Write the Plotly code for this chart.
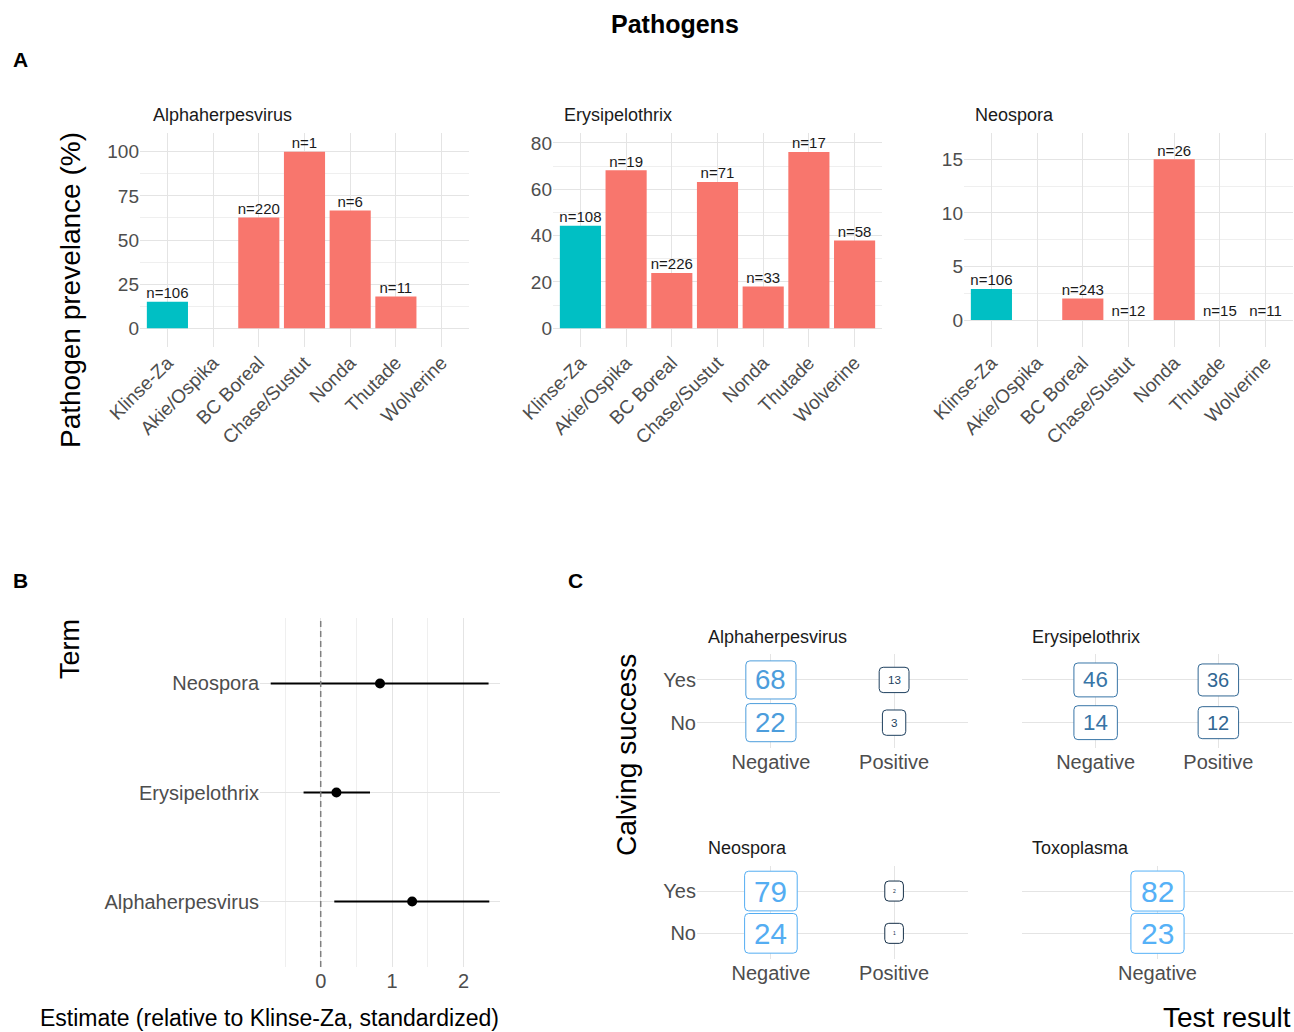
import math
import plotly.graph_objects as go

W, H = 1294, 1032

# ---- Panel A: prevalence by herd ----
regions = ["Klinse-Za", "Akie/Ospika", "BC Boreal", "Chase/Sustut", "Nonda", "Thutade", "Wolverine"]
REFERENCE = "Klinse-Za"

alpha_prev = [15.0, None, 62.7, 100.0, 66.7, 18.0, None]
alpha_n = [106, None, 220, 1, 6, 11, None]

erysip_prev = [44.2, 68.2, 23.9, 63.1, 18.0, 76.1, 37.9]
erysip_n = [108, 19, 226, 71, 33, 17, 58]

neo_prev = [2.9, None, 2.0, 0.0, 15.0, 0.0, 0.0]
neo_n = [106, None, 243, 12, 26, 15, 11]

# ---- Panel B: model estimates ----
terms = ["Alphaherpesvirus", "Erysipelothrix", "Neospora"]
estimate = [1.28, 0.22, 0.83]
conf_low = [0.19, -0.24, -0.70]
conf_high = [2.36, 0.69, 2.35]

# ---- Panel C: calving success by test result ----
calving = ["No", "Yes"]
results = ["Negative", "Positive"]
alpha_counts = {"Negative": [22, 68], "Positive": [3, 13]}
erysip_counts = {"Negative": [14, 46], "Positive": [12, 36]}
neo_counts = {"Negative": [24, 79], "Positive": [1, 2]}
toxo_counts = {"Negative": [23, 82]}

FONT = "Liberation Sans, Arial, sans-serif"
TICK = "#4d4d4d"
GRID = "#e4e4e4"
MINOR = "#efefef"
TEAL = "#00BFC4"
SALMON = "#F8766D"
LOW = (0x13, 0x2B, 0x43)
HIGH = (0x56, 0xB1, 0xF7)


def dom_x(a, b):
    return [a / W, b / W]


def dom_y(top, bottom):
    return [1 - bottom / H, 1 - top / H]


def ann(text, x, y, size, color="#000000", xanchor="center", yanchor="middle", angle=0, bold=False):
    t = f"<b>{text}</b>" if bold else text
    return dict(text=t, x=x / W, y=1 - y / H, xref="paper", yref="paper",
                xanchor=xanchor, yanchor=yanchor, showarrow=False, textangle=angle,
                font=dict(size=size, family=FONT, color=color))


def tickfont(size):
    return dict(size=size, family=FONT, color=TICK)


fig = go.Figure()
layout = {}
annotations = []
shapes = []

# ---------------- Panel A ----------------
a_panels = [
    ("Alphaherpesvirus", alpha_prev, alpha_n, (140, 469), [-10.6, 110.6], 25, 151),
    ("Erysipelothrix", erysip_prev, erysip_n, (553, 882), [-8.1, 84.3], 20, 562),
    ("Neospora", neo_prev, neo_n, (964, 1293), [-2.52, 17.46], 5, 973),
]
for i, (name, prev, ns, (x0, x1), yr, dt, title_x) in enumerate(a_panels, start=1):
    sfx = "" if i == 1 else str(i)
    xa, ya = f"x{sfx}", f"y{sfx}"
    colors = [TEAL if r == REFERENCE else SALMON for r in regions]
    fig.add_trace(go.Bar(x=regions, y=prev, width=0.9, marker=dict(color=colors, line=dict(width=0)),
                         xaxis=xa, yaxis=ya, showlegend=False, hoverinfo="skip"))
    fig.add_trace(go.Scatter(x=regions, y=prev,
                             text=[f"n={n}" if n is not None else "" for n in ns],
                             mode="text", textposition="top center",
                             textfont=dict(size=15, family=FONT, color="#1a1a1a"),
                             xaxis=xa, yaxis=ya, showlegend=False, hoverinfo="skip"))
    layout[f"xaxis{sfx}"] = dict(domain=dom_x(x0, x1), anchor=ya, type="category",
                                 categoryorder="array", categoryarray=regions, range=[-0.6, 6.6],
                                 tickangle=-45, showgrid=True, gridcolor=GRID, gridwidth=1,
                                 zeroline=False, showline=False, ticks="", automargin=False,
                                 tickfont=tickfont(19))
    layout[f"yaxis{sfx}"] = dict(domain=dom_y(133, 347), anchor=xa, range=yr, tick0=0, dtick=dt,
                                 showgrid=True, gridcolor=GRID, gridwidth=1, zeroline=False,
                                 showline=False, ticks="", automargin=False,
                                 minor=dict(tick0=0, dtick=dt / 2, showgrid=True, gridcolor=MINOR, gridwidth=1),
                                 tickfont=tickfont(19))
    annotations.append(ann(name, title_x, 115, 18, color="#1a1a1a", xanchor="left"))

# ---------------- Panel B ----------------
fig.add_trace(go.Scatter(
    x=estimate, y=terms, mode="markers",
    marker=dict(size=10, color="black"),
    error_x=dict(type="data", symmetric=False,
                 array=[h - e for h, e in zip(conf_high, estimate)],
                 arrayminus=[e - l for e, l in zip(estimate, conf_low)],
                 width=0, thickness=2, color="black"),
    xaxis="x4", yaxis="y4", showlegend=False, hoverinfo="skip"))
layout["xaxis4"] = dict(domain=dom_x(260, 500), anchor="y4", range=[-0.85, 2.51], tick0=0, dtick=1,
                        showgrid=True, gridcolor=GRID, zeroline=False, showline=False, ticks="",
                        automargin=False,
                        minor=dict(tick0=0, dtick=0.5, showgrid=True, gridcolor=MINOR),
                        tickfont=tickfont(20))
layout["yaxis4"] = dict(domain=dom_y(618, 967), anchor="x4", type="category", categoryorder="array",
                        categoryarray=terms, range=[-0.6, 2.6], showgrid=True, gridcolor=GRID,
                        zeroline=False, showline=False, ticks="", automargin=False,
                        tickfont=tickfont(20))
shapes.append(dict(type="line", xref="x4", yref="y4 domain", x0=0, x1=0, y0=0, y1=1,
                   line=dict(color="#808080", width=1.5, dash="6px,4px"), layer="above"))

# ---------------- Panel C ----------------
def rounded_rect(w, h, r):
    a, b = w / 2, h / 2
    return (f"M {-a + r},{-b} L {a - r},{-b} Q {a},{-b} {a},{-b + r} "
            f"L {a},{b - r} Q {a},{b} {a - r},{b} L {-a + r},{b} Q {-a},{b} {-a},{b - r} "
            f"L {-a},{-b + r} Q {-a},{-b} {-a + r},{-b} Z")


def blend(t):
    rgb = [round(lo + (hi - lo) * t) for lo, hi in zip(LOW, HIGH)]
    return "#{:02x}{:02x}{:02x}".format(*rgb)


c_panels = [
    ("Alphaherpesvirus", alpha_counts, "x5", "y5", (697, 968), (654.3, 748.3), True, 706, 637),
    ("Erysipelothrix", erysip_counts, "x6", "y6", (1022, 1292), (654.3, 748.3), False, 1030, 637),
    ("Neospora", neo_counts, "x7", "y7", (697, 968), (865.7, 958.7), True, 706, 848),
    ("Toxoplasma", toxo_counts, "x8", "y8", (1022, 1293), (865.7, 958.7), False, 1030, 848),
]
for name, counts, xa, ya, (x0, x1), (t0, b0), show_y, tx, ty in c_panels:
    cols = list(counts.keys())
    total = sum(sum(v) for v in counts.values())
    xs, ys = [], []
    for ci, res in enumerate(cols):
        share = sum(counts[res]) / total
        size = 30 * math.sqrt(share)
        color = blend(share)
        for yi, n in enumerate(counts[res]):
            nd = len(str(n))
            w = size * (0.556 * nd + 0.16) + 15
            h = 0.8 * size + 16
            shapes.append(dict(type="path", xref=xa, yref=ya, xsizemode="pixel", ysizemode="pixel",
                               xanchor=ci, yanchor=yi, path=rounded_rect(w, h, 4),
                               fillcolor="white", line=dict(color=color, width=1), layer="above"))
            annotations.append(dict(text=str(n), x=ci, y=yi, xref=xa, yref=ya, showarrow=False,
                                    xanchor="center", yanchor="middle",
                                    font=dict(size=size, family=FONT, color=color)))
            xs.append(ci)
            ys.append(yi)
    fig.add_trace(go.Scatter(x=xs, y=ys, mode="markers", marker=dict(opacity=0),
                             xaxis=xa, yaxis=ya, showlegend=False, hoverinfo="skip"))
    xr = [-0.6, len(cols) - 0.4]
    layout[f"xaxis{xa[1:]}"] = dict(domain=dom_x(x0, x1), anchor=ya, range=xr,
                                    tickvals=list(range(len(cols))), ticktext=cols,
                                    showgrid=True, gridcolor=GRID, zeroline=False, showline=False,
                                    ticks="", automargin=False, tickfont=tickfont(20))
    layout[f"yaxis{ya[1:]}"] = dict(domain=dom_y(t0, b0), anchor=xa, range=[-0.6, 1.6],
                                    tickvals=[0, 1], ticktext=calving, showticklabels=show_y,
                                    showgrid=True, gridcolor=GRID, zeroline=False, showline=False,
                                    ticks="", automargin=False, tickfont=tickfont(20))
    annotations.append(ann(name, tx, ty, 18, color="#1a1a1a", xanchor="left"))

# ---------------- Titles and labels ----------------
annotations += [
    ann("Pathogens", 675, 24, 25, bold=True),
    ann("A", 20, 60, 21, bold=True),
    ann("B", 20, 580, 21, bold=True),
    ann("C", 575, 580, 21, bold=True),
    ann("Pathogen prevelance (%)", 70, 290, 28, angle=-90),
    ann("Term", 70, 649, 27, angle=-90),
    ann("Estimate (relative to Klinse-Za, standardized)", 269, 1018, 23),
    ann("Calving success", 626, 755, 28, angle=-90),
    ann("Test result", 1293, 1017, 28, xanchor="right"),
]

fig.update_layout(
    template="none",
    width=W, height=H, margin=dict(l=0, r=0, t=0, b=0, autoexpand=False),
    font=dict(family=FONT),
    paper_bgcolor="white", plot_bgcolor="white", showlegend=False,
    annotations=annotations, shapes=shapes, **layout,
)

fig.write_html("out.html")
